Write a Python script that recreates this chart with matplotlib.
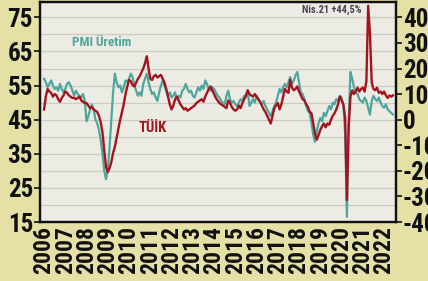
import numpy as np
import pandas as pd
import matplotlib
matplotlib.use("Agg")
import matplotlib.pyplot as plt
from matplotlib import font_manager as fm

# ---- data (monthly, Jan 2006 - Jun 2022) ----
start_year = 2006
pmi_uretim = [
    # 2006
    57.0, 56.0, 54.5, 55.5, 56.5, 55.0, 54.0, 54.5, 53.5, 55.5, 54.0, 53.0,
    # 2007
    54.0, 55.5, 56.0, 55.0, 53.5, 52.0, 53.5, 52.5, 52.0, 51.5, 52.5, 50.5,
    # 2008
    44.5, 46.0, 48.0, 49.5, 48.0, 45.0, 44.0, 42.0, 39.0, 35.0, 30.0, 27.5,
    # 2009
    30.5, 37.0, 45.0, 53.0, 58.5, 56.0, 54.5, 55.0, 53.0, 54.5, 56.5, 56.0,
    # 2010
    57.0, 58.5, 57.5, 55.0, 53.5, 52.0, 53.0, 52.0, 55.5, 57.0, 58.5, 56.0,
    # 2011
    54.0, 52.5, 53.0, 51.5, 50.5, 53.0, 55.0, 56.5, 55.0, 53.5, 52.0, 53.0,
    # 2012
    51.5, 52.0, 53.0, 51.0, 52.0, 51.5, 53.5, 54.0, 55.5, 54.0, 53.0, 53.5,
    # 2013
    52.0, 51.5, 53.0, 54.5, 53.5, 55.0, 54.0, 56.5, 55.5, 54.0, 53.5, 54.5,
    # 2014
    54.0, 53.0, 52.0, 51.5, 50.5, 50.0, 49.5, 52.0, 53.5, 51.0, 50.0, 50.5,
    # 2015
    49.5, 49.0, 50.0, 51.0, 50.5, 52.0, 51.5, 53.5, 49.0, 50.0, 51.0, 50.0,
    # 2016
    52.0, 51.0, 50.0, 49.5, 50.5, 49.0, 48.0, 47.0, 46.0, 47.5, 49.0, 50.0,
    # 2017
    52.0, 54.0, 53.0, 54.5, 55.5, 54.5, 56.0, 57.5, 55.5, 56.5, 58.0, 59.0,
    # 2018
    56.0, 53.0, 52.5, 51.0, 49.0, 47.5, 47.0, 44.0, 40.5, 38.5, 41.5, 44.0,
    # 2019
    45.5, 44.5, 47.0, 46.0, 47.5, 49.0, 48.0, 50.0, 49.5, 51.0, 50.5, 52.0,
    # 2020
    51.5, 49.0, 41.0, 16.5, 45.0, 59.0, 57.0, 54.5, 53.0, 52.5, 51.0, 50.5,
    # 2021
    50.0, 51.5, 50.5, 48.5, 46.5, 50.5, 52.0, 51.0, 50.5, 51.5, 50.0, 49.0,
    # 2022
    48.5, 49.5, 48.0, 47.5, 47.0, 46.5,
]
tuik_yoy = [
    # 2006
    4.0, 9.0, 12.0, 11.0, 10.5, 9.0, 10.0, 9.5, 8.0, 7.0, 8.5, 9.5,
    # 2007
    11.0, 10.5, 9.5, 9.0, 8.5, 8.5, 8.0, 8.5, 9.0, 7.5, 7.0, 6.5,
    # 2008
    6.5, 5.5, 4.5, 5.0, 4.0, 3.5, 3.0, 1.5, -1.0, -5.0, -12.0, -18.5,
    # 2009
    -20.5, -19.0, -16.5, -13.0, -10.5, -7.0, -3.5, 0.0, 3.0, 6.0, 10.0, 13.0,
    # 2010
    15.5, 15.0, 13.5, 13.0, 14.5, 16.0, 17.0, 18.5, 20.0, 22.0, 24.8, 20.0,
    # 2011
    16.0, 15.5, 17.0, 17.5, 16.5, 17.0, 17.5, 16.0, 14.5, 12.0, 9.0, 6.0,
    # 2012
    4.0, 5.5, 8.0, 9.0, 7.5, 6.0, 5.0, 4.0, 4.5, 3.5, 4.0, 4.5,
    # 2013
    5.0, 5.5, 6.5, 7.0, 7.5, 8.0, 7.0, 9.0, 10.5, 12.0, 13.0, 11.5,
    # 2014
    10.0, 8.5, 7.5, 6.5, 6.0, 5.5, 5.0, 4.5, 7.5, 6.5, 5.0, 4.0,
    # 2015
    3.5, 4.0, 5.5, 4.5, 6.5, 8.0, 9.5, 11.5, 10.0, 9.5, 9.0, 10.0,
    # 2016
    9.0, 8.0, 7.0, 5.5, 4.0, 3.0, 1.5, 0.0, -1.5, 1.5, 4.5, 5.5,
    # 2017
    6.5, 4.0, 6.0, 9.0, 12.0, 11.0, 10.5, 15.5, 12.5, 11.5, 12.0, 13.0,
    # 2018
    11.0, 9.5, 8.0, 7.5, 6.0, 5.0, 3.0, 2.5, -1.5, -5.5, -7.8, -6.0,
    # 2019
    -4.0, -2.5, -1.5, -3.0, -1.5, -2.0, 0.0, 1.5, 2.5, 4.0, 6.0, 9.0,
    # 2020
    7.5, 6.0, 1.0, -31.4, -3.0, 9.0, 11.5, 10.0, 11.0, 12.5, 11.0, 12.0,
    # 2021
    12.5, 11.0, 15.0, 44.5, 34.0, 14.5, 12.0, 11.5, 12.5, 10.5, 11.0, 10.0,
    # 2022
    11.0, 9.5, 8.5, 9.5, 9.0, 9.5,
]
years = list(range(2006, 2023))
left_ticks = [15, 25, 35, 45, 55, 65, 75]
right_ticks = [-40, -30, -20, -10, 0, 10, 20, 30, 40]
pmi_label = "PMI Üretim"
tuik_label = "TÜİK"
peak_note = "Nis.21 +44,5%"


# ---- pick a condensed bold face if one is installed ----
def pick_font():
    cands = [("Liberation Sans Narrow", "normal"), ("Roboto Condensed", "normal"),
             ("Open Sans Condensed", "normal"), ("DejaVu Sans", "condensed"),
             ("Noto Sans", "condensed"), ("Open Sans", "condensed")]
    for fam, stretch in cands:
        try:
            path = fm.findfont(fm.FontProperties(family=fam, weight="bold", stretch=stretch),
                               fallback_to_default=False)
        except Exception:
            continue
        name = path.lower()
        if stretch == "normal" or "condensed" in name or "narrow" in name:
            return dict(family=[fam, "DejaVu Sans"], weight="bold", stretch=stretch), True
    return dict(family=["DejaVu Sans"], weight="bold"), False


BOLD, condensed = pick_font()
scale = 1.0 if condensed else 0.8

# ---- figure ----
t = start_year + np.arange(len(pmi_uretim)) / 12.0
t2 = start_year + np.arange(len(tuik_yoy)) / 12.0

FIG_BG = "#e4e0a6"
AX_BG = "#edece4"
TEAL = "#4fa69c"
RED = "#a3141f"

fig = plt.figure(figsize=(4.28, 2.81), dpi=100, facecolor=FIG_BG)
ax = fig.add_axes([40 / 428, 1 - 222 / 281, 356 / 428, 220 / 281])
ax.set_facecolor(AX_BG)
ax2 = ax.twinx()
ax2.patch.set_visible(False)

ax.set_xlim(2005.81, 2022.56)
ax.set_ylim(15, 79.5)
ax2.set_ylim(-40, 46)

for g in np.arange(20, 80, 5):
    ax.axhline(g, color="#cdccc2", lw=0.9, zorder=0)

ax.plot(t, pmi_uretim, color=TEAL, lw=1.6, zorder=2)
ax2.plot(t2, tuik_yoy, color=RED, lw=1.7, zorder=3)

ax.set_yticks(left_ticks)
ax.set_yticklabels([str(v) for v in left_ticks], fontsize=18 * scale, **BOLD)
ax2.set_yticks(right_ticks)
ax2.set_yticklabels([str(v) for v in right_ticks], fontsize=18 * scale, **BOLD)
ax.set_xticks(years)
ax.set_xticklabels([str(y) for y in years], rotation=90, fontsize=17 * scale, **BOLD)

ax.tick_params(axis="y", length=4, width=1.2, pad=1, colors="#111111")
ax2.tick_params(axis="y", length=4, width=1.2, pad=1, colors="#111111")
ax.tick_params(axis="x", length=0, pad=3, colors="#111111")

for a in (ax, ax2):
    for s in a.spines.values():
        s.set_color("#111111")
        s.set_linewidth(1.6)

ax.text(0.174, 0.814, pmi_label, transform=ax.transAxes, ha="center", va="center",
        color=TEAL, fontsize=9.5, **BOLD)
ax.text(0.317, 0.427, tuik_label, transform=ax.transAxes, ha="center", va="center",
        color=RED, fontsize=10.5, **BOLD)
ax.text(0.82, 0.965, peak_note, transform=ax.transAxes, ha="center", va="center",
        color="#4a3f5c", fontsize=7.5, **BOLD)

fig.savefig("out.png", dpi=100, facecolor=FIG_BG)
